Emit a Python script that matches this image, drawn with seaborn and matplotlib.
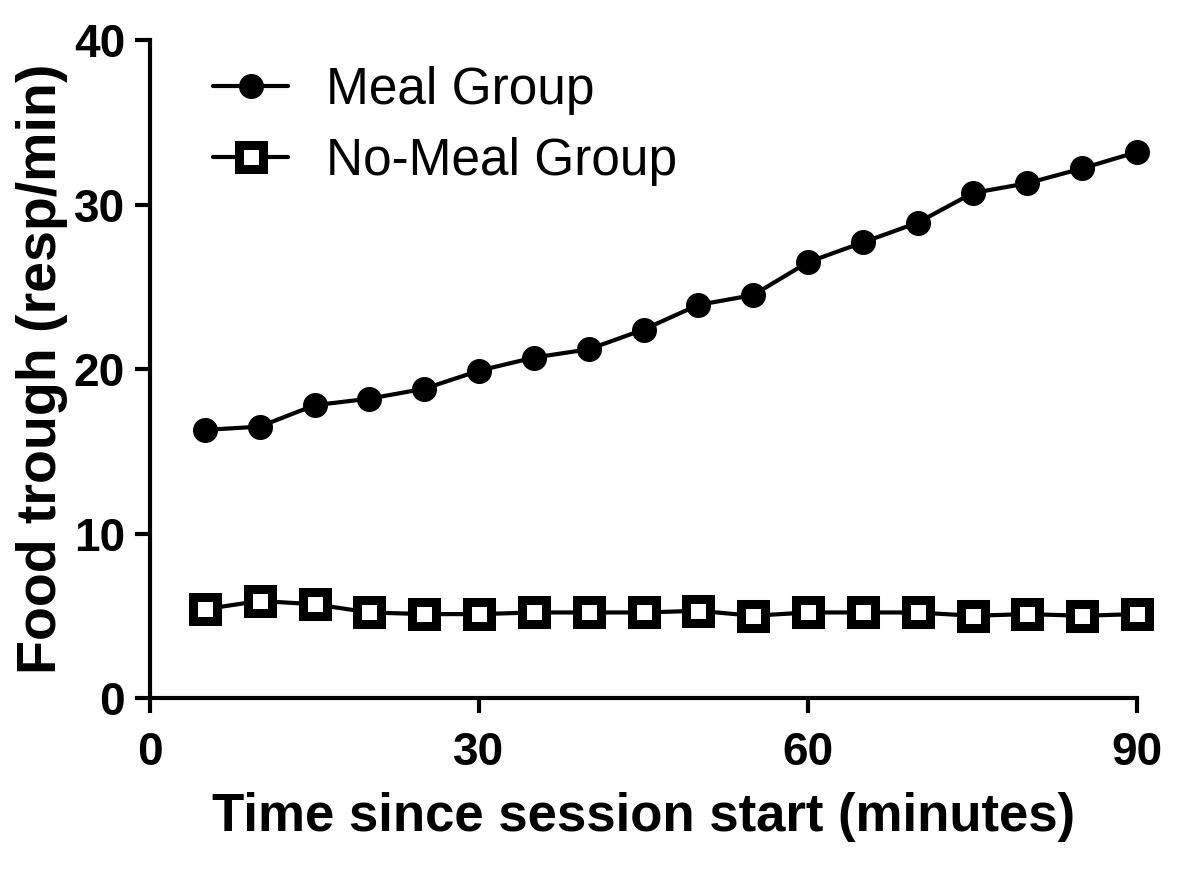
import numpy as np
import pandas as pd
import matplotlib
matplotlib.use('Agg')
import matplotlib.pyplot as plt
import seaborn as sns

# time bins (minutes since session start)
minutes = [5, 10, 15, 20, 25, 30, 35, 40, 45, 50, 55, 60, 65, 70, 75, 80, 85, 90]
# food trough responses per minute
meal = [16.3, 16.5, 17.8, 18.2, 18.8, 19.9, 20.7, 21.2, 22.4, 23.9, 24.5,
        26.5, 27.7, 28.9, 30.7, 31.3, 32.2, 33.2]
no_meal = [5.4, 5.9, 5.7, 5.2, 5.1, 5.1, 5.2, 5.2, 5.2, 5.3, 5.0,
           5.2, 5.2, 5.2, 5.0, 5.1, 5.0, 5.1]

x_ticks = [0, 30, 60, 90]
y_ticks = [0, 10, 20, 30, 40]

sns.set_style('ticks')
plt.rcParams['font.family'] = ['Liberation Sans', 'DejaVu Sans']
plt.rcParams['text.color'] = 'black'
plt.rcParams['axes.labelcolor'] = 'black'
plt.rcParams['axes.edgecolor'] = 'black'
plt.rcParams['xtick.color'] = 'black'
plt.rcParams['ytick.color'] = 'black'

fig = plt.figure(figsize=(11.85, 8.69), dpi=100)
ax = fig.add_axes([0.1266, 0.1968, 0.8329, 0.757])

sns.lineplot(x=minutes, y=meal, ax=ax, color='black', linewidth=3,
             marker='o', markersize=17, markeredgewidth=1,
             markeredgecolor='black', markerfacecolor='black',
             label='Meal Group', clip_on=False)
sns.lineplot(x=minutes, y=no_meal, ax=ax, color='black', linewidth=3,
             marker='s', markersize=17, markeredgewidth=6.5,
             markeredgecolor='black', markerfacecolor='white',
             label='No-Meal Group', clip_on=False)

ax.set_xlim(0, 90)
ax.set_ylim(0, 40)
ax.set_xticks(x_ticks)
ax.set_yticks(y_ticks)
sns.despine(ax=ax)
for s in ['left', 'bottom']:
    ax.spines[s].set_linewidth(3)
ax.tick_params(axis='both', length=11, width=3, labelsize=33)
ax.tick_params(axis='x', pad=13)
ax.tick_params(axis='y', pad=7)
for lab in ax.get_xticklabels() + ax.get_yticklabels():
    lab.set_fontweight('bold')

ax.set_xlabel('Time since session start (minutes)', fontsize=38,
              fontweight='bold', labelpad=12)
ax.set_ylabel('Food trough (resp/min)', fontsize=40, fontweight='bold',
              labelpad=4)

ax.legend(loc='upper left', bbox_to_anchor=(0.18, 0.924),
          bbox_transform=fig.transFigure, frameon=False,
          fontsize=37, handlelength=1.45, handletextpad=0.75,
          labelspacing=0.42, borderaxespad=0, borderpad=0)

fig.savefig('out.png', dpi=100, facecolor='white')
